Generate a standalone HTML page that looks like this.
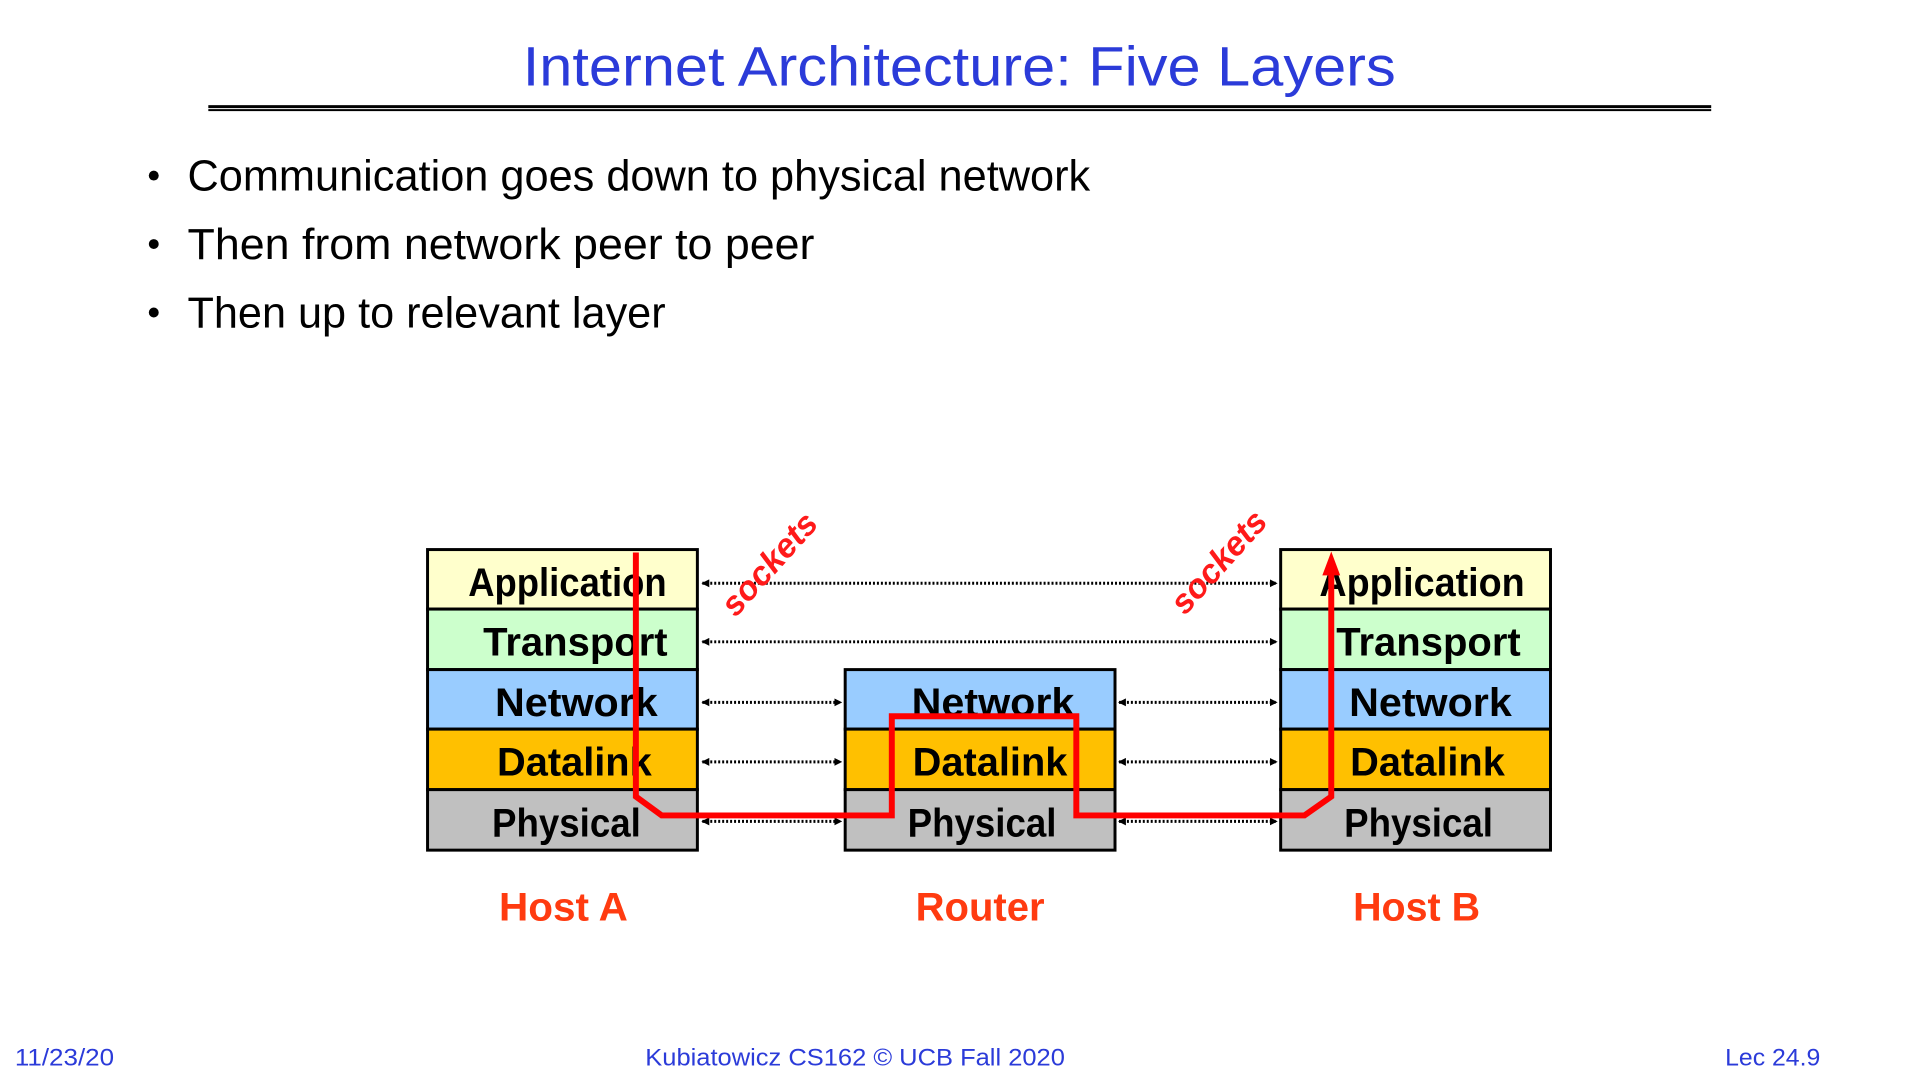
<!DOCTYPE html>
<html><head><meta charset="utf-8"><style>
html,body{margin:0;padding:0;background:#fff;width:1920px;height:1080px;overflow:hidden}
svg{display:block}
.lt{font-family:"Liberation Sans",sans-serif;font-weight:bold;font-size:40px;fill:#000}
</style></head><body>
<svg width="1920" height="1080" viewBox="0 0 1920 1080" xmlns="http://www.w3.org/2000/svg">
<defs>
<marker id="ah" markerWidth="8" markerHeight="8" refX="7" refY="4" orient="auto" markerUnits="userSpaceOnUse"><path d="M0,0 L8,4 L0,8 z" fill="#000"/></marker>
<marker id="ahs" markerWidth="8" markerHeight="8" refX="1" refY="4" orient="auto" markerUnits="userSpaceOnUse"><path d="M8,0 L0,4 L8,8 z" fill="#000"/></marker>
</defs>
<g transform="scale(0.992)">
<text x="967" y="86" text-anchor="middle" font-family="Liberation Sans,sans-serif" font-size="56" fill="#2b3bd9" textLength="880" lengthAdjust="spacingAndGlyphs">Internet Architecture: Five Layers</text>
<rect x="210" y="106" width="1515" height="3" fill="#000"/>
<rect x="210" y="110" width="1515" height="2" fill="#000"/>
<g font-family="Liberation Sans,sans-serif" font-size="44" fill="#000">
<circle cx="155" cy="177" r="5"/><circle cx="155" cy="246" r="5"/><circle cx="155" cy="315" r="5"/>
<text x="189" y="192" textLength="910" lengthAdjust="spacingAndGlyphs">Communication goes down to physical network</text>
<text x="189" y="261" textLength="632" lengthAdjust="spacingAndGlyphs">Then from network peer to peer</text>
<text x="189" y="330" textLength="482" lengthAdjust="spacingAndGlyphs">Then up to relevant layer</text>
</g>
<g stroke="#000" stroke-width="3">
<rect x="431" y="554" width="272" height="60" fill="#ffffcc"/>
<rect x="431" y="614" width="272" height="61" fill="#ccffcc"/>
<rect x="431" y="675" width="272" height="60" fill="#99ccff"/>
<rect x="431" y="735" width="272" height="61" fill="#ffc000"/>
<rect x="431" y="796" width="272" height="61" fill="#c0c0c0"/>
<rect x="852" y="675" width="272" height="60" fill="#99ccff"/>
<rect x="852" y="735" width="272" height="61" fill="#ffc000"/>
<rect x="852" y="796" width="272" height="61" fill="#c0c0c0"/>
<rect x="1291" y="554" width="272" height="60" fill="#ffffcc"/>
<rect x="1291" y="614" width="272" height="61" fill="#ccffcc"/>
<rect x="1291" y="675" width="272" height="60" fill="#99ccff"/>
<rect x="1291" y="735" width="272" height="61" fill="#ffc000"/>
<rect x="1291" y="796" width="272" height="61" fill="#c0c0c0"/>
</g>
<g class="lt">
<text x="472" y="601" textLength="200" lengthAdjust="spacingAndGlyphs">Application</text>
<text x="487" y="661" textLength="186" lengthAdjust="spacingAndGlyphs">Transport</text>
<text x="499" y="722" textLength="164" lengthAdjust="spacingAndGlyphs">Network</text>
<text x="501" y="782" textLength="156" lengthAdjust="spacingAndGlyphs">Datalink</text>
<text x="496" y="843" textLength="150" lengthAdjust="spacingAndGlyphs">Physical</text>
<text x="919" y="722" textLength="164" lengthAdjust="spacingAndGlyphs">Network</text>
<text x="920" y="782" textLength="156" lengthAdjust="spacingAndGlyphs">Datalink</text>
<text x="915" y="843" textLength="150" lengthAdjust="spacingAndGlyphs">Physical</text>
<text x="1330" y="601" textLength="207" lengthAdjust="spacingAndGlyphs">Application</text>
<text x="1347" y="661" textLength="186" lengthAdjust="spacingAndGlyphs">Transport</text>
<text x="1360" y="722" textLength="164" lengthAdjust="spacingAndGlyphs">Network</text>
<text x="1361" y="782" textLength="156" lengthAdjust="spacingAndGlyphs">Datalink</text>
<text x="1355" y="843" textLength="150" lengthAdjust="spacingAndGlyphs">Physical</text>
</g>
<g stroke="#000" stroke-width="3" stroke-dasharray="2,2" fill="none" marker-end="url(#ah)" marker-start="url(#ahs)">
<line x1="708" y1="588" x2="1287" y2="588"/>
<line x1="708" y1="647" x2="1287" y2="647"/>
<line x1="708" y1="708" x2="848" y2="708"/>
<line x1="708" y1="768" x2="848" y2="768"/>
<line x1="708" y1="828" x2="848" y2="828"/>
<line x1="1128" y1="708" x2="1287" y2="708"/>
<line x1="1128" y1="768" x2="1287" y2="768"/>
<line x1="1128" y1="828" x2="1287" y2="828"/>
</g>
<polyline points="641,557 641,803 667,822 899,822 899,722 1085,722 1085,822 1315,822 1342,803 1342,575" fill="none" stroke="#ff0000" stroke-width="6"/>
<path d="M1333,580 L1342,556 L1351,580 z" fill="#ff0000"/>
<g font-family="Liberation Sans,sans-serif" font-weight="bold" font-style="italic" font-size="34" fill="#ff1a1a">
<text x="775" y="580" text-anchor="middle" transform="rotate(-48 775 568)">sockets</text>
<text x="1228" y="578" text-anchor="middle" transform="rotate(-48 1228 566)">sockets</text>
</g>
<g font-family="Liberation Sans,sans-serif" font-weight="bold" font-size="40" fill="#ff3b10" text-anchor="middle">
<text x="568" y="928" textLength="130" lengthAdjust="spacingAndGlyphs">Host A</text>
<text x="988" y="928" textLength="130" lengthAdjust="spacingAndGlyphs">Router</text>
<text x="1428" y="928" textLength="128" lengthAdjust="spacingAndGlyphs">Host B</text>
</g>
<g font-family="Liberation Sans,sans-serif" font-size="24" fill="#2b3bd9">
<text x="15" y="1074" textLength="100" lengthAdjust="spacingAndGlyphs">11/23/20</text>
<text x="862" y="1074" text-anchor="middle" textLength="423" lengthAdjust="spacingAndGlyphs">Kubiatowicz CS162 © UCB Fall 2020</text>
<text x="1835" y="1074" text-anchor="end" textLength="96" lengthAdjust="spacingAndGlyphs">Lec 24.9</text>
</g>
</g>
</svg>
</body></html>
